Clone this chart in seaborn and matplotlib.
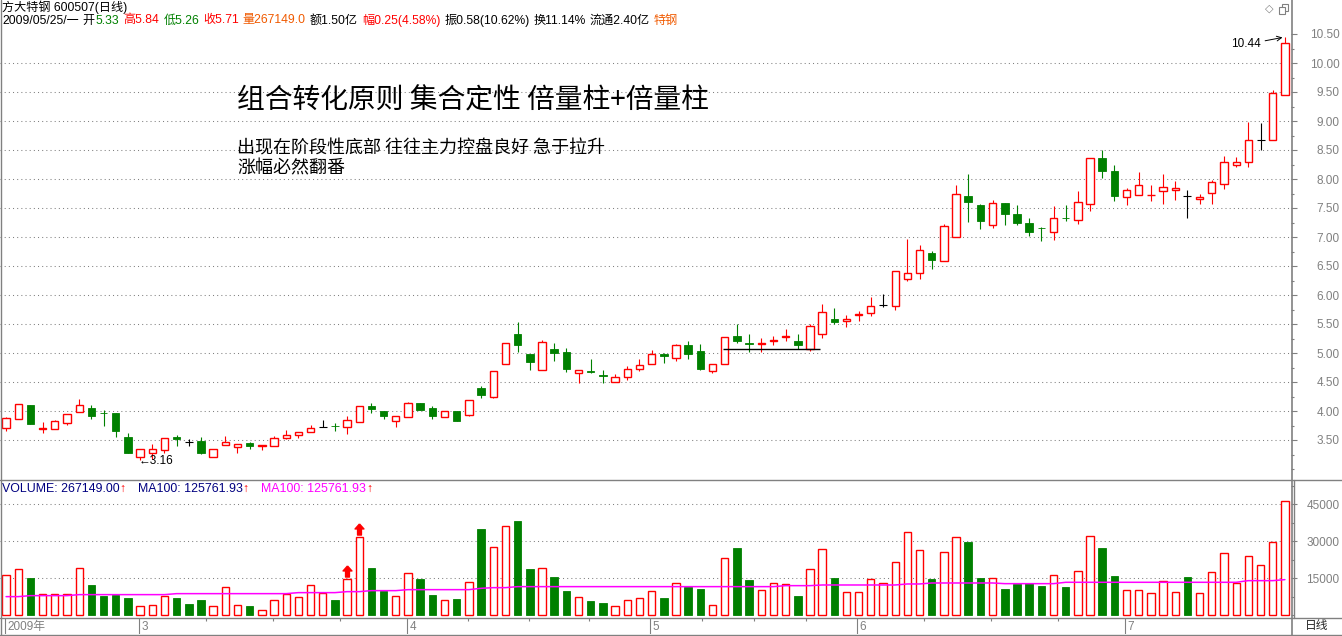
import matplotlib
matplotlib.use("Agg")
from typing import List, Tuple

import matplotlib.pyplot as plt
import numpy as np
import pandas as pd
import seaborn as sns
from matplotlib import transforms
from matplotlib.lines import Line2D
from matplotlib.patches import Rectangle
from matplotlib.ticker import FixedLocator, MultipleLocator, StrMethodFormatter

W, H = 1342, 636
RED = "#FF0000"
GREEN = "#008000"
GRAY = "#808080"
NAVY = "#000080"
MAGENTA = "#FF00FF"
ORANGE = "#F05A00"

LATIN = ["Liberation Sans", "Noto Sans CJK SC", "DejaVu Sans"]
CJK = ["Noto Sans CJK SC", "DejaVu Sans"]

# daily candles, 600507 Feb - Jul 2009
opens = [3.71, 3.87, 4.11, 3.69, 3.69, 3.80, 3.98, 4.06, 3.97, 3.97,
         3.55, 3.21, 3.27, 3.33, 3.55, 3.46, 3.48, 3.20, 3.41, 3.38,
         3.44, 3.39, 3.40, 3.53, 3.58, 3.63, 3.73, 3.75, 3.72, 3.81,
         4.09, 4.00, 3.83, 3.90, 4.13, 4.05, 3.90, 4.00, 3.93, 4.39,
         4.25, 4.81, 5.33, 4.99, 4.71, 5.07, 5.02, 4.66, 4.69, 4.62,
         4.50, 4.59, 4.72, 4.81, 4.99, 4.91, 5.14, 5.03, 4.69, 4.81,
         5.30, 5.17, 5.16, 5.20, 5.27, 5.21, 5.07, 5.33, 5.59, 5.56,
         5.66, 5.69, 5.83, 5.81, 6.28, 6.38, 6.72, 6.59, 7.00, 7.71,
         7.55, 7.21, 7.59, 7.40, 7.24, 7.16, 7.09, 7.33, 7.29, 7.57,
         8.36, 8.14, 7.69, 7.72, 7.72, 7.79, 7.81, 7.71, 7.66, 7.76,
         7.91, 8.24, 8.30, 8.68, 8.68, 9.45]
highs = [3.89, 4.12, 4.11, 3.81, 3.85, 3.95, 4.20, 4.11, 4.02, 3.97,
         3.62, 3.34, 3.43, 3.53, 3.59, 3.52, 3.55, 3.34, 3.57, 3.43,
         3.46, 3.42, 3.57, 3.67, 3.64, 3.76, 3.85, 3.79, 3.92, 4.09,
         4.14, 4.00, 3.91, 4.16, 4.13, 4.08, 4.00, 4.00, 4.19, 4.43,
         4.69, 5.17, 5.53, 4.99, 5.23, 5.18, 5.09, 4.71, 4.90, 4.71,
         4.64, 4.78, 4.89, 5.06, 5.00, 5.16, 5.20, 5.16, 4.81, 5.28,
         5.50, 5.33, 5.26, 5.30, 5.41, 5.33, 5.50, 5.84, 5.78, 5.66,
         5.73, 5.97, 6.01, 6.41, 6.97, 6.86, 6.76, 7.22, 7.90, 8.09,
         7.57, 7.63, 7.59, 7.55, 7.33, 7.18, 7.53, 7.55, 7.79, 8.36,
         8.50, 8.24, 7.84, 8.12, 7.90, 8.09, 7.97, 7.81, 7.74, 7.98,
         8.40, 8.38, 8.98, 8.96, 9.53, 10.44]
lows = [3.65, 3.86, 3.78, 3.62, 3.69, 3.76, 3.98, 3.86, 3.75, 3.56,
        3.28, 3.16, 3.18, 3.28, 3.40, 3.40, 3.26, 3.20, 3.41, 3.28,
        3.34, 3.32, 3.39, 3.52, 3.53, 3.63, 3.73, 3.66, 3.61, 3.81,
        3.96, 3.87, 3.73, 3.90, 4.01, 3.87, 3.90, 3.82, 3.91, 4.22,
        4.22, 4.81, 5.01, 4.70, 4.71, 4.87, 4.68, 4.49, 4.66, 4.49,
        4.50, 4.53, 4.69, 4.81, 4.82, 4.87, 4.90, 4.70, 4.65, 4.81,
        5.17, 5.01, 5.01, 5.13, 5.21, 5.07, 5.03, 5.26, 5.50, 5.44,
        5.55, 5.63, 5.80, 5.75, 6.24, 6.28, 6.44, 6.59, 7.00, 7.26,
        7.14, 7.16, 7.21, 7.21, 7.01, 6.93, 6.95, 7.28, 7.22, 7.45,
        8.01, 7.62, 7.56, 7.72, 7.62, 7.57, 7.64, 7.32, 7.57, 7.57,
        7.82, 8.21, 8.20, 8.50, 8.68, 9.44]
closes = [3.88, 4.12, 3.78, 3.70, 3.83, 3.95, 4.10, 3.91, 3.96, 3.65,
          3.28, 3.34, 3.34, 3.53, 3.51, 3.46, 3.27, 3.34, 3.47, 3.43,
          3.39, 3.42, 3.53, 3.58, 3.64, 3.70, 3.73, 3.74, 3.84, 4.09,
          4.03, 3.91, 3.91, 4.14, 4.02, 3.91, 4.00, 3.82, 4.19, 4.27,
          4.69, 5.17, 5.13, 4.84, 5.19, 5.00, 4.72, 4.71, 4.68, 4.60,
          4.59, 4.72, 4.79, 4.98, 4.94, 5.14, 4.99, 4.72, 4.81, 5.28,
          5.20, 5.16, 5.18, 5.23, 5.30, 5.13, 5.47, 5.71, 5.53, 5.59,
          5.67, 5.81, 5.83, 6.41, 6.38, 6.78, 6.60, 7.19, 7.74, 7.60,
          7.27, 7.59, 7.39, 7.24, 7.09, 7.15, 7.33, 7.32, 7.60, 8.36,
          8.13, 7.70, 7.81, 7.90, 7.73, 7.86, 7.84, 7.71, 7.69, 7.95,
          8.29, 8.29, 8.68, 8.68, 9.49, 10.34]
volumes = [16480, 18650, 15000, 8780, 8780, 8780, 19320, 12160, 7700, 8240,
           6890, 3650, 4320, 7700, 6890, 4460, 6080, 3650, 11620, 4050,
           3650, 2300, 6350, 8510, 7300, 12430, 8920, 6080, 14860, 31880,
           19050, 9860, 7970, 17290, 14730, 8110, 6350, 6480, 13650, 34860,
           27830, 36340, 38100, 18640, 19050, 15400, 9730, 7570, 5670, 4860,
           3920, 6350, 6890, 10000, 6890, 13240, 11480, 10540, 4320, 23370,
           27150, 14190, 10400, 13240, 12830, 7700, 18640, 26715, 15000, 9590,
           9590, 14590, 13240, 21750, 33910, 26610, 14590, 25800, 31880, 29590,
           15000, 15270, 10540, 12700, 13240, 11750, 16480, 11350, 18100, 32290,
           27150, 15810, 10400, 10400, 9190, 14050, 9590, 15400, 9190, 17700,
           25400, 13240, 24180, 20540, 29590, 46470]
ma100 = [7570, 7570, 7970, 7970, 7970, 7970, 8380, 8380, 8380, 8380,
         8380, 8380, 8380, 8380, 8780, 8780, 8780, 8780, 8780, 8780,
         8780, 8780, 8780, 8780, 9190, 9190, 9190, 9190, 9590, 9590,
         10000, 10000, 10000, 10400, 10400, 10400, 10400, 10400, 10400, 10940,
         11210, 11210, 11620, 11620, 11620, 11620, 11620, 11620, 11620, 11620,
         11620, 11620, 11620, 11620, 11620, 11620, 11620, 11620, 11620, 11620,
         11620, 11620, 11620, 11620, 12020, 12020, 12020, 12290, 12290, 12290,
         12290, 12290, 12290, 12290, 12700, 12700, 13100, 13100, 13100, 13100,
         13100, 13100, 12830, 12830, 12830, 12830, 12830, 13380, 13380, 13380,
         13380, 13380, 13380, 13380, 13380, 13380, 13380, 13380, 13380, 13380,
         13380, 13380, 14050, 14050, 14050, 14460]

month_starts = [0, 11, 33, 53, 70, 92]
month_labels = ["2009年", "3", "4", "5", "6", "7"]
week_ticks = [16.4, 21.9, 27.4, 37.9, 42.9, 47.9, 57.1, 61.4, 65.7, 75.4, 80.9, 86.4]
price_ticks = [3.5, 4.0, 4.5, 5.0, 5.5, 6.0, 6.5, 7.0, 7.5, 8.0, 8.5, 9.0, 9.5, 10.0, 10.5]
volume_ticks = [15000, 30000, 45000]
double_volume_days = [28, 29]
support_level = 5.07
support_span = (58.9, 66.8)

header_line1 = [("方大特钢 600507(日线)", "black", 0)]
header_line2 = [
    ("2009/05/25/一", "black", 4), ("开", "black", 1), ("5.33", GREEN, 4),
    ("高5.84", RED, 4), ("低5.26", GREEN, 4), ("收5.71", RED, 4),
    ("量267149.0", ORANGE, 4), ("额1.50亿", "black", 4),
    ("幅0.25(4.58%)", RED, 4), ("振0.58(10.62%)", "black", 4),
    ("换11.14%", "black", 4), ("流通2.40亿", "black", 4), ("特钢", ORANGE, 0),
]
volume_header = [
    ("VOLUME: 267149.00", NAVY, 0), ("↑", RED, 12),
    ("MA100: 125761.93", NAVY, 0), ("↑", RED, 12),
    ("MA100: 125761.93", MAGENTA, 0), ("↑", RED, 0),
]


def fx(x: float) -> float:
    return x / W


def fy(y: float) -> float:
    return 1 - y / H


def fig_line(fig, x0, y0, x1, y1, color=GRAY, lw=1.0) -> None:
    """Draw a panel border in pixel coordinates."""
    fig.add_artist(Line2D([fx(x0), fx(x1)], [fy(y0), fy(y1)], color=color,
                          lw=lw, transform=fig.transFigure, zorder=10))


def flow_text(fig, x_px: float, y_px: float, parts: List[Tuple[str, str, float]],
              size: float = 8.5) -> None:
    """Write coloured text pieces one after another on a single line."""
    renderer = fig.canvas.get_renderer()
    x = x_px
    for text, color, gap in parts:
        t = fig.text(fx(x), fy(y_px), text, color=color, fontsize=size,
                     ha="left", va="center", family=LATIN)
        x += t.get_window_extent(renderer).width + gap


def style_right_axis(ax, ticks, minor_step, fmt) -> None:
    for s in ax.spines.values():
        s.set_visible(False)
    ax.yaxis.tick_right()
    ax.yaxis.set_major_locator(FixedLocator(ticks))
    ax.yaxis.set_minor_locator(MultipleLocator(minor_step))
    ax.yaxis.set_major_formatter(StrMethodFormatter(fmt))
    ax.tick_params(axis="y", which="major", length=4, width=0.8, color=GRAY,
                   labelcolor=GRAY, labelsize=8.5, pad=31)
    ax.tick_params(axis="y", which="minor", length=2.5, width=0.8, color=GRAY)
    ax.tick_params(axis="x", bottom=False, labelbottom=False)
    for lab in ax.get_yticklabels():
        lab.set_horizontalalignment("right")
        lab.set_family(LATIN)
    ax.set_xlabel("")
    ax.set_ylabel("")


sns.set_theme(style="white")
plt.rcParams["font.family"] = CJK
plt.rcParams["axes.unicode_minus"] = False

df = pd.DataFrame({"open": opens, "high": highs, "low": lows, "close": closes,
                   "volume": volumes, "ma100": ma100})
df["idx"] = np.arange(len(df))
up = df["close"] > df["open"]
down = df["close"] < df["open"]
flat = ~(up | down)
vol_up = up | (flat & (df["close"] >= df["close"].shift(1)))

fig = plt.figure(figsize=(W / 100, H / 100), dpi=100)
ax_p = fig.add_axes([0, fy(479), fx(1291), (479 - 28) / H])
ax_v = fig.add_axes([0, fy(618), fx(1291), (618 - 480) / H])
ax_d = fig.add_axes([0, fy(634), fx(1291), (634 - 618) / H])
for ax in (ax_p, ax_v, ax_d):
    ax.set_xlim(-0.5, len(df) - 0.5)
    ax.patch.set_alpha(0)

# --- price panel ---
ax_p.set_ylim(3.5 - 39 / 58, 10.5 + 6 / 58)
for level in price_ticks[:-1]:
    ax_p.axhline(level, color=GRAY, lw=0.75, ls=(0, (1, 3)), zorder=1)

d = df[up]
ax_p.vlines(d["idx"], d["low"], d["high"], color=RED, lw=0.8, zorder=2)
ax_p.bar(d["idx"], d["close"] - d["open"], bottom=d["open"], width=0.6,
         facecolor="white", edgecolor=RED, lw=1.0, zorder=3)
d = df[down]
ax_p.vlines(d["idx"], d["low"], d["high"], color=GREEN, lw=0.8, zorder=2)
ax_p.bar(d["idx"], d["close"] - d["open"], bottom=d["open"], width=0.62,
         color=GREEN, edgecolor=GREEN, lw=0.6, zorder=3)
d = df[flat]
ax_p.vlines(d["idx"], d["low"], d["high"], color="black", lw=0.8, zorder=2)
ax_p.hlines(d["open"], d["idx"] - 0.33, d["idx"] + 0.33, color="black", lw=0.8, zorder=2)

ax_p.hlines(support_level, *support_span, color="black", lw=1.0, zorder=5)

lo = df["low"].idxmin()
ax_p.annotate(f"←{df['low'][lo]:.2f}", xy=(lo, df["low"][lo]), xytext=(-1, -1),
              textcoords="offset pixels", ha="left", va="center", fontsize=8.5,
              family=LATIN, color="black")
hi = df["high"].idxmax()
ax_p.annotate(f"{df['high'][hi]:.2f}", xy=(hi - 0.2, df["high"][hi]), xytext=(-22, -7),
              textcoords="offset pixels", ha="right", va="center", fontsize=8.5,
              family=LATIN, color="black",
              arrowprops=dict(arrowstyle="->", color="black", lw=0.7,
                              shrinkA=1, shrinkB=0))
style_right_axis(ax_p, price_ticks, 0.25, "{x:.2f}")

# --- volume panel ---
ax_v.set_ylim(-1095, 54850)
for level in volume_ticks:
    ax_v.axhline(level, color=GRAY, lw=0.75, ls=(0, (1, 3)), zorder=1)
d = df[vol_up]
ax_v.bar(d["idx"], d["volume"], width=0.6, facecolor="white", edgecolor=RED,
         lw=1.0, zorder=2)
d = df[~vol_up]
ax_v.bar(d["idx"], d["volume"], width=0.62, color=GREEN, edgecolor=GREEN,
         lw=0.6, zorder=2)
sns.lineplot(x=df["idx"], y=df["ma100"], ax=ax_v, color=MAGENTA, lw=1.1,
             zorder=4, legend=False)

arrow_marker = [(0, 1), (-0.8, 0.1), (-0.35, 0.1), (-0.35, -1), (0.35, -1),
                (0.35, 0.1), (0.8, 0.1), (0, 1)]
lift = transforms.offset_copy(ax_v.transData, fig=fig, y=8, units="dots")
ax_v.plot(df["idx"][double_volume_days], df["volume"][double_volume_days],
          ls="none", marker=arrow_marker, markersize=8, color=RED,
          transform=lift, zorder=5)
style_right_axis(ax_v, volume_ticks, 7500, "{x:.0f}")

# --- date strip ---
ax_d.set_ylim(0, 1)
for s in ax_d.spines.values():
    s.set_visible(False)
ax_d.set_yticks([])
ax_d.xaxis.set_major_locator(FixedLocator(week_ticks))
ax_d.tick_params(axis="x", bottom=False, top=True, labelbottom=False,
                 direction="in", length=2.5, width=0.8, color=GRAY)
for start, label in zip(month_starts, month_labels):
    ax_d.vlines(start - 0.1, 0, 1, color=GRAY, lw=0.8)
    ax_d.text(start + 0.1, 0.45, label, color=GRAY, fontsize=8.5, family=LATIN,
              ha="left", va="center")

# --- frame lines ---
fig_line(fig, 0.5, 0, 0.5, H)
fig_line(fig, 1291.5, 0, 1291.5, H, lw=1.2)
fig_line(fig, 1293.5, 480, 1293.5, 618)
fig_line(fig, 0, 480, W, 480)
fig_line(fig, 0, 618, W, 618)
fig_line(fig, 0, 634.5, W, 634.5)

# --- texts ---
flow_text(fig, 2, 7.5, header_line1, size=8.7)
flow_text(fig, 2, 20.5, header_line2, size=8.7)
flow_text(fig, 2, 489, volume_header, size=8.9)
fig.text(fx(1305), fy(626), "日线", fontsize=8.5, family=CJK, ha="left", va="center")
fig.text(fx(1265), fy(9), "◇", fontsize=8, color=GRAY, family=["DejaVu Sans"],
         ha="left", va="center")
fig.add_artist(Rectangle((fx(1282), fy(11)), 6 / W, 7 / H, fill=False, ec=GRAY,
                         lw=0.8, transform=fig.transFigure))
fig.add_artist(Rectangle((fx(1279), fy(14)), 6 / W, 7 / H, fc="white", ec=GRAY,
                         lw=0.8, transform=fig.transFigure))

fig.text(fx(237), fy(100), "组合转化原则 集合定性 倍量柱+倍量柱", fontsize=20,
         family=CJK, ha="left", va="center", color="black")
fig.text(fx(237), fy(148), "出现在阶段性底部 往往主力控盘良好 急于拉升", fontsize=13,
         family=CJK, ha="left", va="center", color="black")
fig.text(fx(237), fy(168), "涨幅必然翻番", fontsize=13, family=CJK, ha="left",
         va="center", color="black")

fig.savefig("out.png", dpi=100)
